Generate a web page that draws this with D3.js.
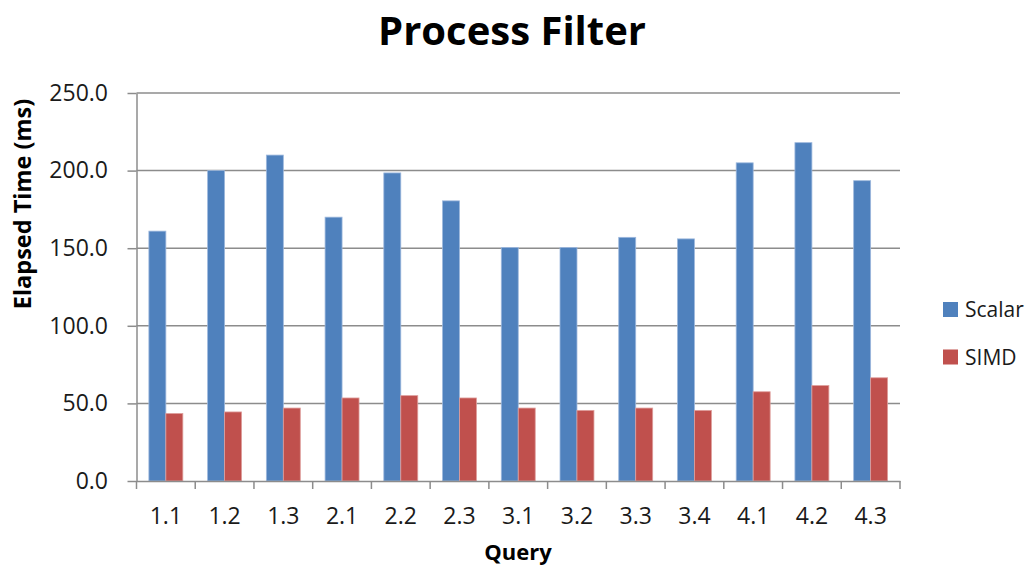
<!DOCTYPE html>
<html><head><meta charset="utf-8">
<script src="https://cdn.jsdelivr.net/npm/d3@7/dist/d3.min.js"></script>
<style>body{margin:0;background:#fff}svg{display:block}</style>
</head><body>
<svg id="c" width="1030" height="567"></svg>
<script>
const categories = ["1.1","1.2","1.3","2.1","2.2","2.3","3.1","3.2","3.3","3.4","4.1","4.2","4.3"];
const scalarValues = [161, 200, 210, 170, 198.5, 180.5, 150.5, 150.5, 157, 156, 205, 218, 193.5];
const simdValues = [43.5, 44.5, 47, 53.5, 55, 53.5, 47, 45.5, 47, 45.5, 57.5, 61.5, 66.5];
const seriesNames = ["Scalar", "SIMD"];
const yTicks = [0, 50, 100, 150, 200, 250];

const colors = {"Scalar": "#4F81BD", "SIMD": "#C0504D"};
const strokes = {"Scalar": "#9DB8DD", "SIMD": "#DE9E9C"};
const font = "'Open Sans', 'Noto Sans', sans-serif";

const svg = d3.select("#c");
const L = 136.5, R = 900, T = 93, B = 481;

const x = d3.scaleBand().domain(categories).range([L, R]).paddingInner(0).paddingOuter(0);
const xs = d3.scaleBand().domain(seriesNames).range([0, x.bandwidth()]).paddingInner(0).paddingOuter(0.73);
const y = d3.scaleLinear().domain([0, 250]).range([B, T]);

// gridlines
svg.append("g").selectAll("line").data(yTicks.filter(d => d > 0)).join("line")
  .attr("x1", L).attr("x2", R).attr("y1", d => y(d)).attr("y2", d => y(d))
  .attr("stroke", "#8c8c8c").attr("stroke-width", 1.5);

// bars
const data = [];
categories.forEach((c, i) => {
  data.push({c, s: "Scalar", v: scalarValues[i]});
  data.push({c, s: "SIMD", v: simdValues[i]});
});
svg.append("g").selectAll("rect").data(data).join("rect")
  .attr("x", d => x(d.c) + xs(d.s))
  .attr("width", xs.bandwidth())
  .attr("y", d => y(d.v))
  .attr("height", d => B - y(d.v))
  .attr("fill", d => colors[d.s])
  .attr("stroke", d => strokes[d.s]).attr("stroke-width", 0.8);

// y axis
const yAxis = d3.axisLeft(y).tickValues(yTicks).tickFormat(d3.format(".1f")).tickSize(9).tickSizeOuter(0).tickPadding(19.5);
const gy = svg.append("g").attr("transform", `translate(${L},0)`).call(yAxis);
gy.select(".domain").attr("stroke", "#8c8c8c").attr("stroke-width", 1.5);
gy.selectAll(".tick line").attr("stroke", "#8c8c8c").attr("stroke-width", 1.5);
gy.selectAll("text").attr("font-family", font).attr("font-size", 23).attr("fill", "#1a1a1a");

// x axis
const xAxis = d3.axisBottom(x).tickSize(0).tickPadding(27);
const gx = svg.append("g").attr("transform", `translate(0,${B})`).call(xAxis);
gx.select(".domain").attr("stroke", "#8c8c8c").attr("stroke-width", 1.5);
gx.selectAll("text").attr("font-family", font).attr("font-size", 23).attr("fill", "#1a1a1a");
// category boundary ticks
const bounds = categories.map(c => x(c)).concat([R]);
gx.append("g").selectAll("line").data(bounds).join("line")
  .attr("x1", d => d).attr("x2", d => d).attr("y1", 0).attr("y2", 8)
  .attr("stroke", "#8c8c8c").attr("stroke-width", 1.5);

// title
svg.append("text").attr("x", 512).attr("y", 45).attr("text-anchor", "middle")
  .attr("font-family", font).attr("font-weight", "bold").attr("font-size", 40)
  .attr("fill", "#000").text("Process Filter");

// axis titles
svg.append("text").attr("transform", "translate(31,204) rotate(-90)").attr("text-anchor", "middle")
  .attr("font-family", font).attr("font-weight", "bold").attr("font-size", 23.5)
  .attr("fill", "#000").text("Elapsed Time (ms)");
svg.append("text").attr("x", 518).attr("y", 560).attr("text-anchor", "middle")
  .attr("font-family", font).attr("font-weight", "bold").attr("font-size", 22)
  .attr("fill", "#000").text("Query");

// legend
const lg = svg.append("g").selectAll("g").data(seriesNames).join("g")
  .attr("transform", (d, i) => `translate(943,${302 + i * 47.5})`);
lg.append("rect").attr("width", 15).attr("height", 15).attr("fill", d => colors[d]);
lg.append("text").attr("x", 22).attr("y", 15).attr("font-family", font).attr("font-size", 21)
  .attr("fill", "#1a1a1a").text(d => d);
</script>
</body></html>
